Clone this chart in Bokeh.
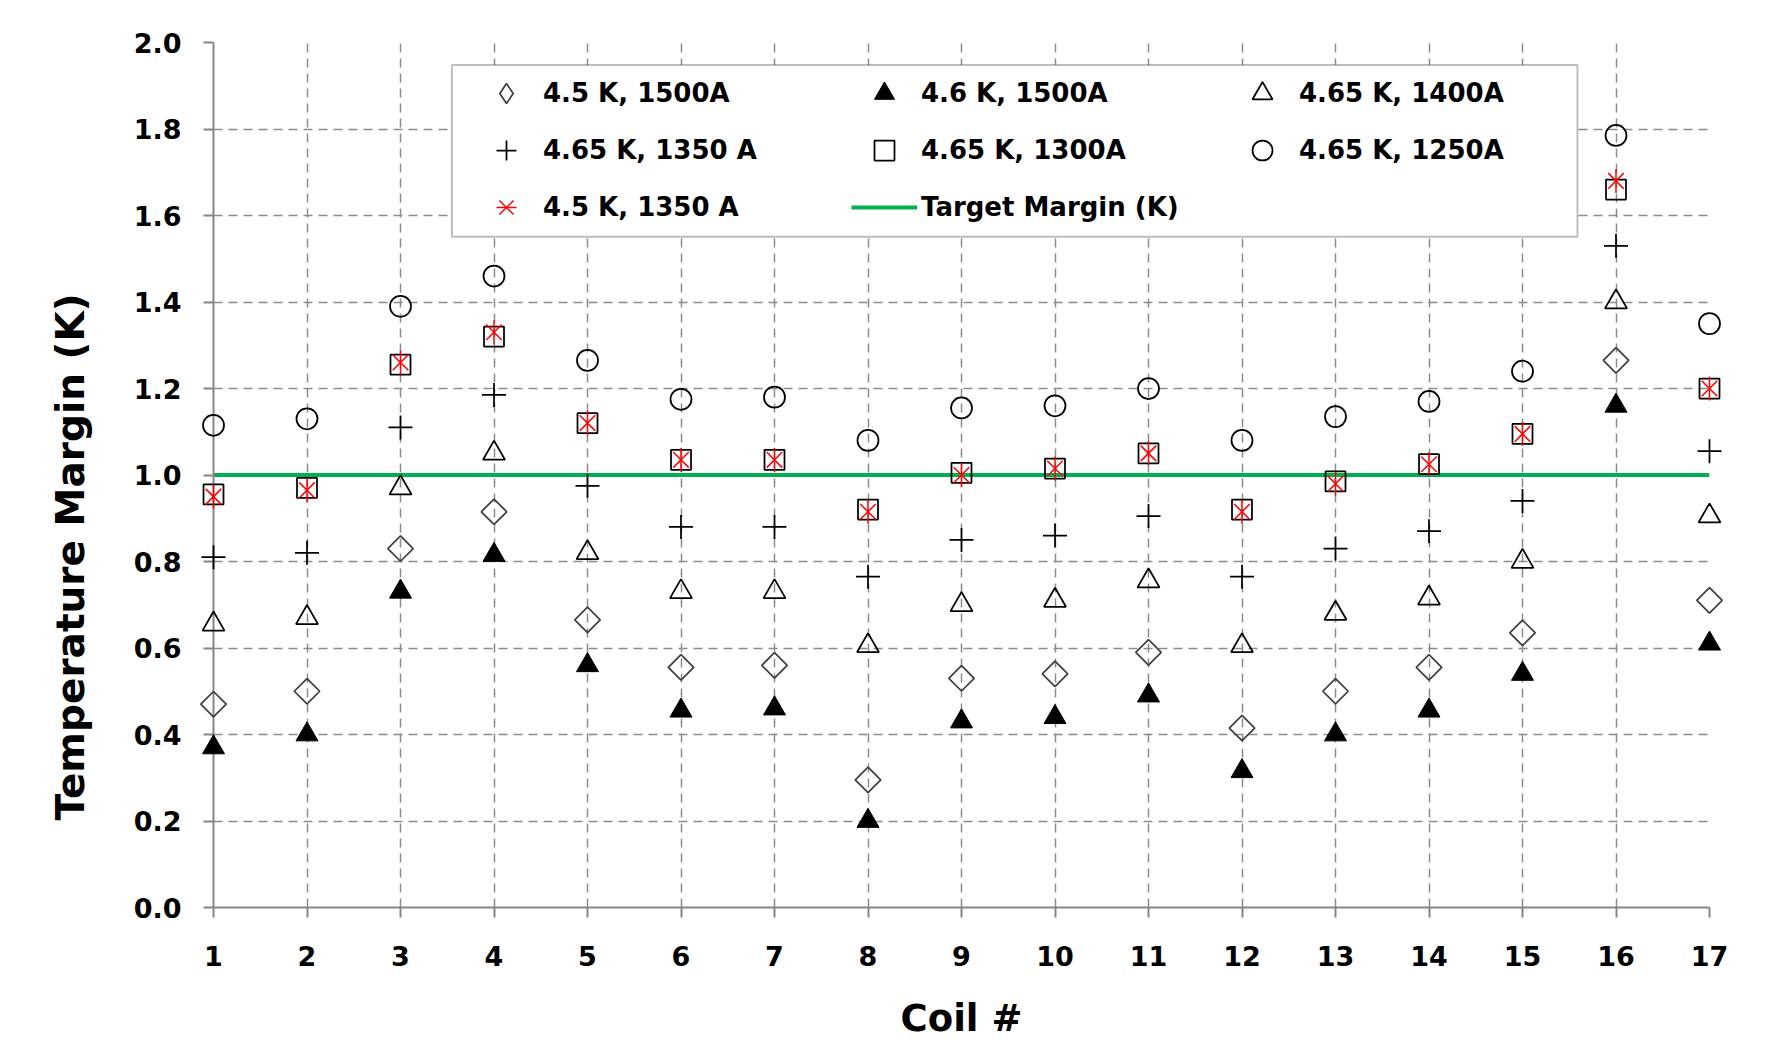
import math
from bokeh.plotting import figure
from bokeh.models import (Range1d, FixedTicker, Legend, LegendItem, BoxAnnotation,
                          ColumnDataSource, Title)
from bokeh.embed import file_html
from bokeh.resources import INLINE

# ---------------- data ----------------
coils = [1, 2, 3, 4, 5, 6, 7, 8, 9, 10, 11, 12, 13, 14, 15, 16, 17]
x_tick_labels = ["1", "2", "3", "4", "5", "6", "7", "8", "9", "10", "11", "12", "13", "14", "15", "16", "17"]
y_ticks = [0.0, 0.2, 0.4, 0.6, 0.8, 1.0, 1.2, 1.4, 1.6, 1.8, 2.0]
y_tick_labels = ["0.0", "0.2", "0.4", "0.6", "0.8", "1.0", "1.2", "1.4", "1.6", "1.8", "2.0"]

m_45K_1500A = [0.47, 0.50, 0.83, 0.915, 0.665, 0.555, 0.56, 0.295, 0.53, 0.54, 0.59, 0.415, 0.50, 0.555, 0.635, 1.265, 0.71]
m_46K_1500A = [0.37, 0.40, 0.73, 0.815, 0.56, 0.455, 0.46, 0.20, 0.43, 0.44, 0.49, 0.315, 0.40, 0.455, 0.54, 1.16, 0.61]
m_465K_1400A = [0.655, 0.67, 0.97, 1.05, 0.82, 0.73, 0.73, 0.605, 0.70, 0.71, 0.755, 0.605, 0.68, 0.715, 0.80, 1.40, 0.905]
m_465K_1350A = [0.81, 0.82, 1.11, 1.185, 0.975, 0.88, 0.88, 0.765, 0.85, 0.86, 0.905, 0.765, 0.83, 0.87, 0.94, 1.53, 1.055]
m_465K_1300A = [0.955, 0.97, 1.255, 1.32, 1.12, 1.035, 1.035, 0.92, 1.005, 1.015, 1.05, 0.92, 0.985, 1.025, 1.095, 1.66, 1.20]
m_465K_1250A = [1.115, 1.13, 1.39, 1.46, 1.265, 1.175, 1.18, 1.08, 1.155, 1.16, 1.20, 1.08, 1.135, 1.17, 1.24, 1.785, 1.35]
m_45K_1350A = [0.95, 0.965, 1.26, 1.33, 1.12, 1.035, 1.035, 0.915, 1.0, 1.015, 1.05, 0.915, 0.98, 1.025, 1.095, 1.68, 1.20]
target_margin = [1.0, 1.0, 1.0, 1.0, 1.0, 1.0, 1.0, 1.0, 1.0, 1.0, 1.0, 1.0, 1.0, 1.0, 1.0, 1.0, 1.0]

labels = ["4.5 K, 1500A", "4.6 K, 1500A", "4.65 K, 1400A",
          "4.65 K, 1350 A", "4.65 K, 1300A", "4.65 K, 1250A",
          "4.5 K, 1350 A", "Target Margin (K)"]
x_title = "Coil #"
y_title = "Temperature Margin (K)"

# ---------------- style ----------------
FONT = "DejaVu Sans"
AXIS_GRAY = "#868686"
GRID_GRAY = "#8c8c8c"
GREEN = "#00B050"

p = figure(width=1760, height=1060, output_backend="svg", toolbar_location=None,
           x_range=Range1d(1, 17), y_range=Range1d(0, 2),
           min_border_left=213, min_border_right=51, min_border_top=42, min_border_bottom=153,
           background_fill_color="white", border_fill_color="white")
p.outline_line_color = None

p.xaxis.ticker = FixedTicker(ticks=coils)
p.yaxis.ticker = FixedTicker(ticks=y_ticks)
p.xaxis.major_label_overrides = {c: t for c, t in zip(coils, x_tick_labels)}
p.yaxis.major_label_overrides = {v: t for v, t in zip(y_ticks, y_tick_labels)}
p.xgrid.ticker = FixedTicker(ticks=coils)
p.ygrid.ticker = FixedTicker(ticks=y_ticks)

for grid in (p.xgrid[0], p.ygrid[0]):
    grid.grid_line_color = GRID_GRAY
    grid.grid_line_dash = "9 6"
    grid.grid_line_width = 1.5

for ax in (p.xaxis[0], p.yaxis[0]):
    ax.axis_line_color = AXIS_GRAY
    ax.axis_line_width = 2
    ax.major_tick_line_color = AXIS_GRAY
    ax.major_tick_line_width = 2
    ax.major_tick_out = 10
    ax.major_tick_in = 0
    ax.minor_tick_line_color = None
    ax.major_label_text_font = FONT
    ax.major_label_text_font_style = "bold"
    ax.major_label_text_font_size = "27px"
    ax.major_label_text_color = "black"
    ax.axis_label_text_font = FONT
    ax.axis_label_text_font_style = "bold"
    ax.axis_label_text_color = "black"

p.xaxis.axis_label = x_title
p.xaxis.axis_label_text_font_size = "37px"
p.xaxis.major_label_standoff = 28
p.xaxis.axis_label_standoff = 28
p.yaxis.major_label_standoff = 22

# y-axis title, in the left panel, starting a little above the frame bottom as in the original
p.add_layout(Title(text=y_title, align="left", offset=87, standoff=76,
                   text_font=FONT, text_font_style="bold", text_font_size="39px",
                   text_color="black"), "left")

# target line
r_target = p.line(coils, target_margin, line_color=GREEN, line_width=4)

LW = 1.75
DIAM_GRAY = "#404040"
r_diam = p.scatter(coils, m_45K_1500A, marker="square", angle=math.pi / 4, size=18,
                   line_color=DIAM_GRAY, line_width=LW, fill_alpha=0, level="overlay")
r_ftri = p.scatter(coils, m_46K_1500A, marker="triangle", size=22,
                   line_color="black", fill_color="black", line_width=1, level="overlay")
r_tri = p.scatter(coils, m_465K_1400A, marker="triangle", size=22,
                  line_color="black", fill_alpha=0, line_width=LW, level="overlay")
r_plus = p.scatter(coils, m_465K_1350A, marker="cross", size=24,
                   line_color="black", line_width=LW, level="overlay")
r_sq = p.scatter(coils, m_465K_1300A, marker="square", size=20,
                 line_color="black", fill_alpha=0, line_width=LW, level="overlay")
r_circ = p.scatter(coils, m_465K_1250A, marker="circle", size=21,
                   line_color="black", fill_alpha=0, line_width=LW, level="overlay")
r_star_x = p.scatter(coils, m_45K_1350A, marker="x", size=22,
                     line_color="red", line_width=1.5, level="overlay")
r_star_v = p.scatter(coils, m_45K_1350A, marker="dash", angle=math.pi / 2, size=24,
                     line_color="red", line_width=1.5, level="overlay")

# legend key for the diamond series (legend keys ignore marker angle): same data,
# hidden in the plot through selection styling, drawn only in the legend
key_src = ColumnDataSource(data=dict(x=coils, y=m_45K_1500A))
key_src.selected.indices = [0]
r_diam_key = p.scatter("x", "y", source=key_src, marker="diamond", size=22,
                       line_color=DIAM_GRAY, line_width=LW, fill_alpha=0,
                       selection_line_alpha=0, selection_fill_alpha=0,
                       nonselection_line_alpha=0, nonselection_fill_alpha=0)

# legend frame
box = BoxAnnotation(left=3.55, right=15.588, top=1.948, bottom=1.551,
                    fill_color="white", fill_alpha=1.0, line_color="#262626", line_width=2)
p.add_layout(box)

items = [
    LegendItem(label=labels[0], renderers=[r_diam_key]),
    LegendItem(label=labels[1], renderers=[r_ftri]),
    LegendItem(label=labels[2], renderers=[r_tri]),
    LegendItem(label=labels[3], renderers=[r_plus]),
    LegendItem(label=labels[4], renderers=[r_sq]),
    LegendItem(label=labels[5], renderers=[r_circ]),
    LegendItem(label=labels[6], renderers=[r_star_x, r_star_v]),
    LegendItem(label=labels[7], renderers=[r_target]),
]
legend = Legend(items=items, orientation="horizontal", ncols=3, location=(260, 675),
                glyph_width=66, glyph_height=50, label_standoff=4, label_width=301,
                label_height=50, spacing=7, padding=0, margin=0,
                border_line_alpha=0, background_fill_alpha=0,
                label_text_font=FONT, label_text_font_style="bold",
                label_text_font_size="26px", label_text_color="black")
p.add_layout(legend)

open("out.html", "w").write(file_html(p, INLINE))
